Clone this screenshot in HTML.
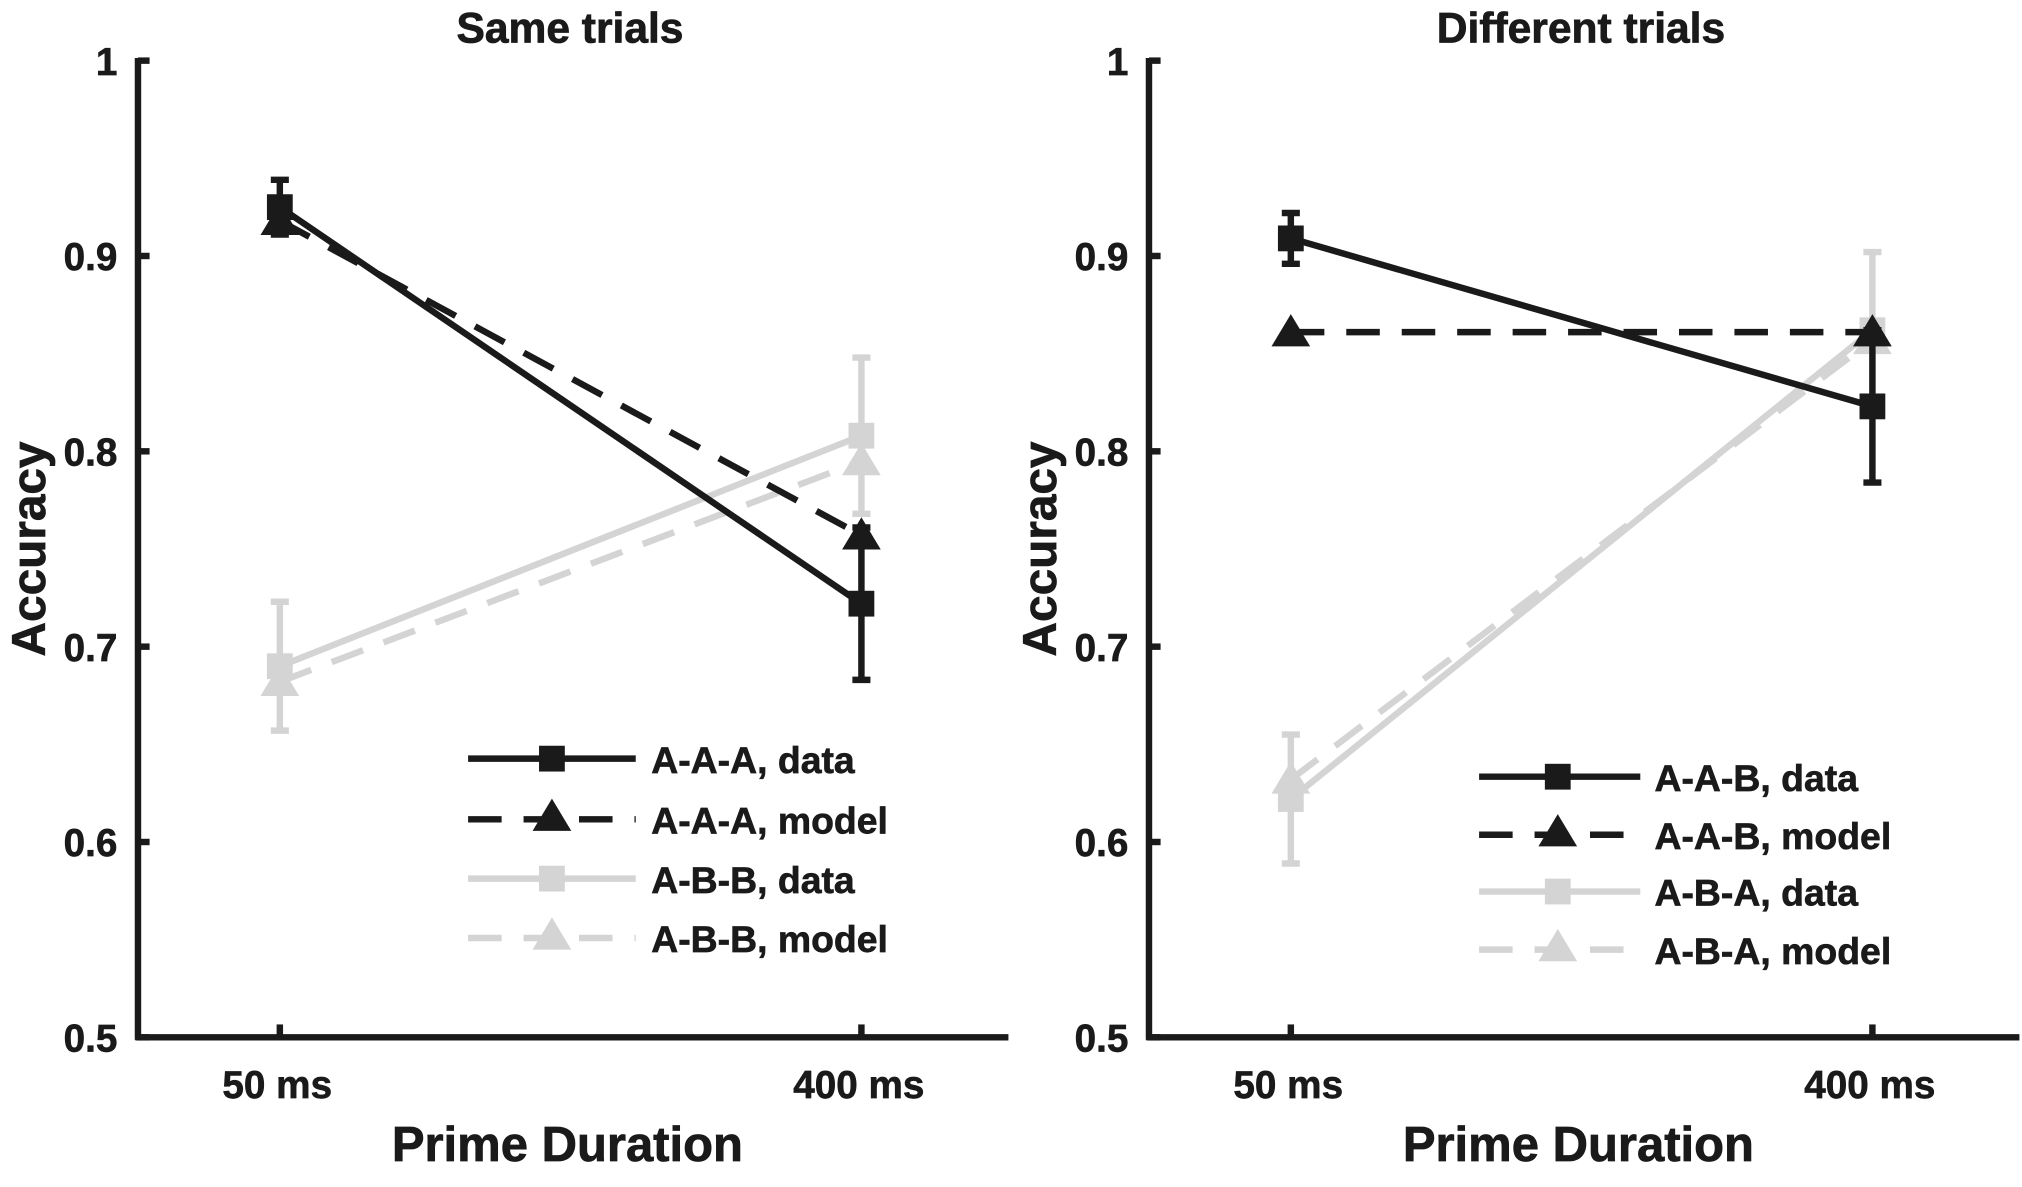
<!DOCTYPE html>
<html><head><meta charset="utf-8"><style>
html,body{margin:0;padding:0;background:#fff;}
svg{display:block;font-family:"Liberation Sans",Arial,sans-serif;font-weight:bold;}
</style></head><body>
<svg id="chart" width="2022" height="1187" viewBox="0 0 1568 920" preserveAspectRatio="none" xmlns="http://www.w3.org/2000/svg"></svg>
<script>
const categories = ["50 ms", "400 ms"];
const yTicks = [0.5, 0.6, 0.7, 0.8, 0.9, 1];
const yTickLabels = ["0.5", "0.6", "0.7", "0.8", "0.9", "1"];
const panelTitles = ["Same trials", "Different trials"];
// left panel
const sameDataVals = [0.925, 0.722];
const sameDataErr = [0.014, 0.039];
const sameModelVals = [0.918, 0.757];
const sameAltDataVals = [0.69, 0.808];
const sameAltDataErr = [0.033, 0.04];
const sameAltModelVals = [0.682, 0.795];
const sameLabels = ["A-A-A, data", "A-A-A, model", "A-B-B, data", "A-B-B, model"];
// right panel
const diffDataVals = [0.909, 0.823];
const diffDataErr = [0.013, 0.039];
const diffModelVals = [0.861, 0.861];
const diffAltDataVals = [0.622, 0.862];
const diffAltDataErr = [0.033, 0.04];
const diffAltModelVals = [0.632, 0.857];
const diffLabels = ["A-A-B, data", "A-A-B, model", "A-B-A, data", "A-B-A, model"];

const NS = "http://www.w3.org/2000/svg";
const svg = document.getElementById("chart");
const BLACK = "#1a1a1a", GRAY = "#d4d4d4";
const DASH = "26 17";
function mk(tag, attrs, parent, txt){
  const e = document.createElementNS(NS, tag);
  for (const k in attrs) e.setAttribute(k, attrs[k]);
  if (txt !== undefined) e.textContent = txt;
  (parent || svg).appendChild(e);
  return e;
}
const panels = [
  {ax:107, xr:782, xs:[217,668], leg:{x0:363,x1:493,mx:428,tx:505,ys:[588,635,681,727]}, cx:442,
   series:[[sameDataVals,sameDataErr,sameModelVals],[sameAltDataVals,sameAltDataErr,sameAltModelVals]], labels:sameLabels, title:panelTitles[0], key:"same"},
  {ax:891, xr:1566, xs:[1001,1452], leg:{x0:1147,x1:1272,mx:1208,tx:1283,ys:[602,647,691,736]}, cx:1226,
   series:[[diffDataVals,diffDataErr,diffModelVals],[diffAltDataVals,diffAltDataErr,diffAltModelVals]], labels:diffLabels, title:panelTitles[1], key:"different"}
];
const yTop = 47, yBot = 804;
function yS(v){ return yBot - (v - 0.5) / 0.5 * (yBot - yTop); }

function square(g, x, y, color, name){
  const r = mk("rect", {x:x-10, y:y-10, width:20, height:20, fill:color}, g);
  
  
}
function tri(g, x, y, color, name){
  const p = mk("polygon", {points:`${x},${y-14} ${x-15},${y+11} ${x+15},${y+11}`, fill:color}, g);
  
  
}

panels.forEach((P, pi) => {
  const g = mk("g", {});
  
  
  const xS = i => P.xs[i];
  const t = mk("text", {x:P.cx, y:33, "font-size":33, "text-anchor":"middle", fill:BLACK, stroke:BLACK, "stroke-width":0.6}, g, P.title);
  
  
  const ya = mk("line", {x1:P.ax, y1:yTop-2, x2:P.ax, y2:yBot+2, stroke:BLACK, "stroke-width":5}, g);
  
  
  const xa = mk("line", {x1:P.ax-2, y1:yBot, x2:P.xr, y2:yBot, stroke:BLACK, "stroke-width":5}, g);
  
  
  yTicks.forEach((v, i) => {
    mk("line", {x1:P.ax, y1:yS(v), x2:P.ax+9, y2:yS(v), stroke:BLACK, "stroke-width":5}, g);
    const l = mk("text", {x:P.ax-16, y:yS(v)+11, "font-size":30, "text-anchor":"end", fill:BLACK, stroke:BLACK, "stroke-width":0.5}, g, yTickLabels[i]);
    
    
  });
  categories.forEach((c, i) => {
    mk("line", {x1:xS(i), y1:yBot, x2:xS(i), y2:yBot-10, stroke:BLACK, "stroke-width":5}, g);
    const l = mk("text", {x:xS(i)-2, y:yBot+47, "font-size":30, "text-anchor":"middle", fill:BLACK, stroke:BLACK, "stroke-width":0.5}, g, c);
    
    
  });
  const xl = mk("text", {x:P.cx-2, y:900, "font-size":38, "text-anchor":"middle", fill:BLACK, stroke:BLACK, "stroke-width":0.6}, g, "Prime Duration");
  
  
  const yl = mk("text", {x:0, y:0, "font-size":37, "text-anchor":"middle", fill:BLACK, stroke:BLACK, "stroke-width":0.6, transform:`translate(${P.ax-72},${(yTop+yBot)/2}) rotate(-90)`}, g, "Accuracy");
  
  

  const cols = [BLACK, GRAY];
  [1,0].forEach(si => {
    const [dv, de, mv] = P.series[si];
    const col = cols[si];
    const sg = mk("g", {}, g);
    
    
    mk("line", {x1:xS(0), y1:yS(mv[0]), x2:xS(1), y2:yS(mv[1]), stroke:col, "stroke-width":5, "stroke-dasharray":DASH}, sg);
    mk("line", {x1:xS(0), y1:yS(dv[0]), x2:xS(1), y2:yS(dv[1]), stroke:col, "stroke-width":5}, sg);
    dv.forEach((v, i) => {
      const x = xS(i), y1 = yS(v + de[i]), y2 = yS(v - de[i]);
      const eb = mk("path", {d:`M${x},${y1}V${y2}M${x-7},${y1}H${x+7}M${x-7},${y2}H${x+7}`, stroke:col, "stroke-width":5, fill:"none"}, sg);
      
      
      square(sg, x, yS(v), col, 'data-point');
    });
    mv.forEach((v, i) => tri(sg, xS(i), yS(v), col, 'model-point'));
  });

  const lg = mk("g", {}, g);
  
  
  const L = P.leg;
  P.labels.forEach((lab, i) => {
    const col = i < 2 ? BLACK : GRAY;
    const dashed = i % 2 === 1;
    const y = L.ys[i];
    const eg = mk("g", {}, lg);
    
    
    const la = {x1:L.x0, y1:y, x2:L.x1, y2:y, stroke:col, "stroke-width":5};
    if (dashed) la["stroke-dasharray"] = DASH;
    mk("line", la, eg);
    if (dashed) tri(eg, L.mx, y-2, col, 'legend-marker'); else square(eg, L.mx, y, col, 'legend-marker');
    mk("text", {x:L.tx, y:y+11, "font-size":29, fill:BLACK, stroke:BLACK, "stroke-width":0.5}, eg, lab);
  });
});
</script>
</body></html>
